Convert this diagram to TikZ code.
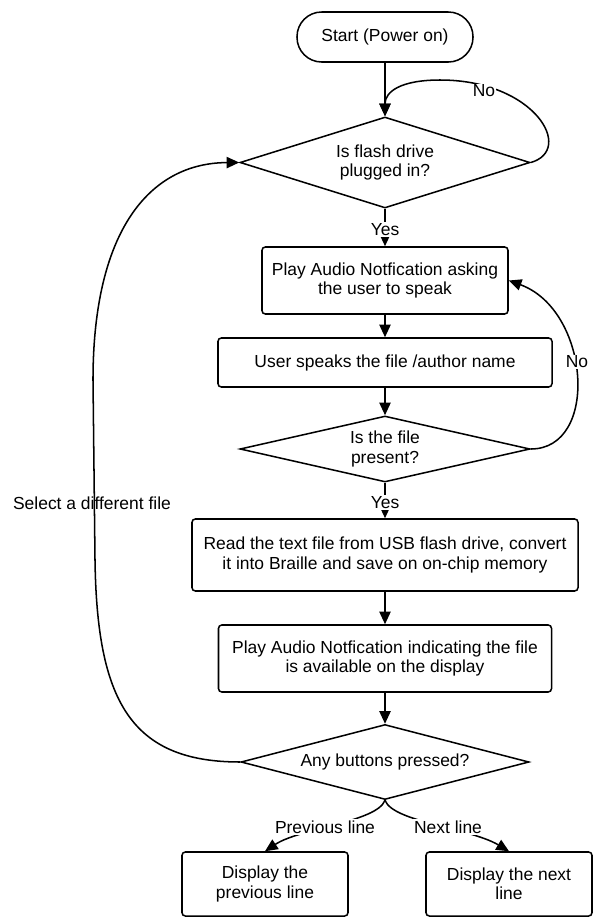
\documentclass[tikz,border=0pt]{standalone}
\usepackage{fontspec}
\setmainfont{Liberation Sans}
\usetikzlibrary{shapes.geometric,arrows.meta}
\begin{document}
\begin{tikzpicture}[x=0.03cm,y=-0.03cm,
  font=\fontsize{14.9pt}{16.5pt}\selectfont,
  every node/.style={align=center},
  box/.style={draw, line width=1.3pt, rounded corners=1mm, inner sep=0pt},
  dia/.style={draw, diamond, line width=1.3pt, inner sep=0pt, shape aspect=3},
  term/.style={draw, line width=1.3pt, rounded corners=7.4mm, inner sep=0pt},
  arr/.style={line width=1.3pt, -{Triangle[length=3.8mm,width=3.4mm]}},
  lbl/.style={fill=white, inner sep=1pt}
]
\useasboundingbox (0,0) rectangle (593,918);

\node[term, minimum width=5.28cm, minimum height=1.5cm] (start) at (385,37) {Start (Power on)};
\node[dia, minimum width=8.7cm, minimum height=2.73cm] (d1) at (385,162.5) {Is flash drive\\plugged in?};
\node[box, minimum width=7.38cm, minimum height=2.01cm] (b1) at (385,280.5) {Play Audio Notfication asking\\the user to speak};
\node[box, minimum width=10.02cm, minimum height=1.47cm] (b2) at (385,362.5) {User speaks the file /author name};
\node[dia, minimum width=8.7cm, minimum height=1.98cm] (d2) at (385,449) {Is the file\\present?};
\node[box, minimum width=11.58cm, minimum height=2.16cm] (b3) at (385,555) {Read the text file from USB flash drive, convert\\it into Braille and save on on-chip memory};
\node[box, minimum width=9.99cm, minimum height=2.01cm] (b4) at (385,658.5) {Play Audio Notfication indicating the file\\is available on the display};
\node[dia, minimum width=8.64cm, minimum height=2.25cm] (d3) at (385,762) {Any buttons pressed?};
\node[box, minimum width=4.98cm, minimum height=1.92cm] (b5) at (265,884) {Display the\\previous line};
\node[box, minimum width=4.98cm, minimum height=1.92cm] (b6) at (509,884) {Display the next\\line};

% main flow
\draw[arr] (start) -- (d1);
\draw[arr] (d1) -- (b1) node[lbl, pos=0.55] (yes1) {Yes};
\draw[arr] (b1) -- (b2);
\draw[arr] (b2) -- (d2);
\draw[arr] (d2) -- (b3) node[lbl, pos=0.55] (yes2) {Yes};
\draw[arr] (b3) -- (b4);
\draw[arr] (b4) -- (d3);

% No loop on flash drive
\draw[arr] (d1.east) .. controls (575,150) and (535,80) .. (440,80)
  .. controls (400,80) and (385,92) .. (d1.north);
\node[lbl] (no1) at (484,91) {No};

% No loop on file present
\draw[arr] (d2.east) .. controls (600,449) and (590,310) .. (b1.east);
\node[lbl] (no2) at (577,362) {No};

% select a different file
\draw[arr] (d3.west) .. controls (130,762) and (97,700) .. (95,560)
  -- (93,380) .. controls (93,230) and (150,163) .. (d1.west);
\node (sel) at (92,503) {Select a different file};

% button branches
\draw[arr] (d3.south) .. controls (377,822) and (300,828) .. (b5.north);
\node[lbl] (prev) at (325,827) {Previous line};
\draw[arr] (d3.south) .. controls (393,822) and (470,828) .. (b6.north);
\node[lbl] (next) at (448,827) {Next line};
\end{tikzpicture}
\end{document}
